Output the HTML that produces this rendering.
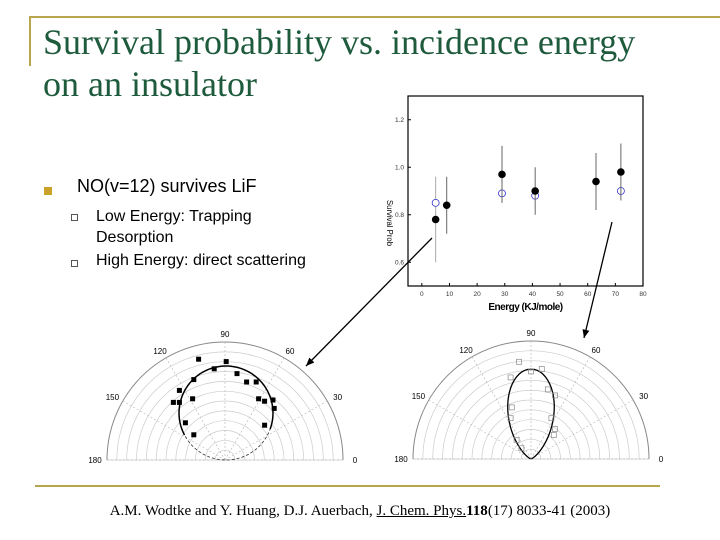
<!DOCTYPE html>
<html><head><meta charset="utf-8"><style>
body{margin:0;width:720px;height:540px;background:#fff;position:relative;overflow:hidden;font-family:"Liberation Sans",sans-serif}
.abs{position:absolute}
</style></head><body>
<div class="abs" style="left:29px;top:16px;width:691px;height:2px;background:#b8a64e"></div>
<div class="abs" style="left:29px;top:16px;width:2px;height:50px;background:#b8a64e"></div>
<div class="abs" style="left:43px;top:21px;font-family:'Liberation Serif',serif;font-size:36px;line-height:42px;color:#1e5a3c">Survival probability vs. incidence energy<br>on an insulator</div>
<div class="abs" style="left:44px;top:187px;width:8px;height:8px;background:#c9a227"></div>
<div class="abs" style="left:77px;top:176px;font-size:18px;color:#000">NO(v=12) survives LiF</div>
<div class="abs" style="left:71px;top:214px;width:5px;height:5px;border:1px solid #555"></div>
<div class="abs" style="left:96px;top:206px;font-size:16px;line-height:21px;color:#000">Low Energy: Trapping<br>Desorption</div>
<div class="abs" style="left:71px;top:260px;width:5px;height:5px;border:1px solid #555"></div>
<div class="abs" style="left:96px;top:252px;font-size:16px;color:#000">High Energy: direct scattering</div>
<div class="abs" style="left:35px;top:485px;width:625px;height:2px;background:#b8a64e"></div>
<div class="abs" style="left:0;width:720px;top:503px;text-align:center;font-family:'Liberation Serif',serif;font-size:15px;color:#000">A.M. Wodtke and Y. Huang, D.J. Auerbach, <u>J. Chem. Phys.</u><b>118</b>(17) 8033-41 (2003)</div>

<svg class="abs" style="left:0;top:0" width="720" height="540">
<g id="scatter"></g>
<g id="polarL"></g>
<g id="polarR"></g>
<g id="arrows"></g>
</svg>
<script>
const energyFilled=[5,9,29,41,63,72];
const probFilled=[0.78,0.84,0.97,0.90,0.94,0.98];
const errLoFilled=[0.78,0.72,0.85,0.80,0.82,0.86];
const errHiFilled=[0.78,0.96,1.09,1.00,1.06,1.10];
const energyOpen=[5,29,41,72];
const probOpen=[0.85,0.89,0.88,0.90];
const errLoOpen=[0.60,0.89,0.88,0.90];
const errHiOpen=[0.96,0.89,0.88,0.90];
const xTicks=[0,10,20,30,40,50,60,70,80];
const yTicks=[0.6,0.8,1.0,1.2];
const lowX=[-0.22,0.01,-0.09,0.10,-0.26,0.18,0.26,-0.38,-0.27,0.28,-0.43,-0.38,0.33,0.40,0.41,-0.33,0.33,-0.26];
const lowY=[0.84,0.82,0.76,0.72,0.67,0.65,0.65,0.58,0.51,0.51,0.48,0.48,0.49,0.50,0.43,0.31,0.29,0.21];
const highX=[-0.10,0.09,0,-0.17,0.14,0.20,-0.16,-0.17,0.17,0.20,0.19,-0.12,-0.08];
const highY=[0.81,0.75,0.73,0.68,0.58,0.53,0.43,0.34,0.34,0.25,0.20,0.16,0.09];
const polarAngles=[0,30,60,90,120,150,180];
const NS='http://www.w3.org/2000/svg';
function el(p,t,a){const e=document.createElementNS(NS,t);for(const k in a)e.setAttribute(k,a[k]);p.appendChild(e);return e;}
const sc=document.getElementById('scatter');
const X0=408,X1=643,Y0=286,Y1=96;
const xs=v=>X0+(v+5)/85*(X1-X0);
const ys=v=>Y0-(v-0.5)/0.8*(Y0-Y1);
let r=el(sc,'rect',{x:X0,y:Y1,width:X1-X0,height:Y0-Y1,fill:'none',stroke:'#000','stroke-width':1.2});

xTicks.forEach(t=>{el(sc,'line',{x1:xs(t),x2:xs(t),y1:Y0,y2:Y0-3,stroke:'#000'});
 const tx=el(sc,'text',{x:xs(t),y:Y0+10,'font-size':6.5,'text-anchor':'middle',fill:'#333'});tx.textContent=t;
 });
yTicks.forEach(t=>{el(sc,'line',{x1:X0,x2:X0+3,y1:ys(t),y2:ys(t),stroke:'#000'});
 const tx=el(sc,'text',{x:X0-4,y:ys(t)+2,'font-size':6.5,'text-anchor':'end',fill:'#333'});tx.textContent=t.toFixed(1);
 });
let xt=el(sc,'text',{x:(X0+X1)/2,y:Y0+24,'font-size':10,'font-weight':'bold','text-anchor':'middle','letter-spacing':-0.5});xt.textContent='Energy (KJ/mole)';

let yt=el(sc,'text',{x:0,y:0,'font-size':8,transform:'translate(387,200) rotate(90)','textLength':46,'lengthAdjust':'spacingAndGlyphs'});yt.textContent='Survival Prob';

energyOpen.forEach((e,i)=>{
 el(sc,'line',{x1:xs(e),x2:xs(e),y1:ys(errLoOpen[i]),y2:ys(errHiOpen[i]),stroke:'#aaa'});
 const c=el(sc,'circle',{cx:xs(e),cy:ys(probOpen[i]),r:3.5,fill:'#fff',stroke:'#33c','stroke-width':0.8});
 });
energyFilled.forEach((e,i)=>{
 el(sc,'line',{x1:xs(e),x2:xs(e),y1:ys(errLoFilled[i]),y2:ys(errHiFilled[i]),stroke:'#666'});
 const c=el(sc,'circle',{cx:xs(e),cy:ys(probFilled[i]),r:3.8,fill:'#000'});
 });
function polar(g,cx,cy,R){
 for(let k=1;k<=12;k++){const rr=R*k/12;
  el(g,'path',{d:`M${cx-rr},${cy} A${rr},${rr} 0 0 1 ${cx+rr},${cy}`,fill:'none',stroke:k==12?'#888':'#ccc','stroke-width':k==12?1:0.7});}
 el(g,'line',{x1:cx-R,x2:cx+R,y1:cy,y2:cy,stroke:'#ccc','stroke-width':0.7});
 polarAngles.forEach(a=>{const t=a*Math.PI/180;
  el(g,'line',{x1:cx,y1:cy,x2:cx+R*Math.cos(t),y2:cy-R*Math.sin(t),stroke:'#bbb','stroke-dasharray':'2,2','stroke-width':0.7});
  const lx=cx+(R+12)*Math.cos(t),ly=cy-(R+8)*Math.sin(t)+3;
  const tx=el(g,'text',{x:lx,y:ly,'font-size':8,'text-anchor':'middle'});tx.textContent=a;
  });
}
const gL=document.getElementById('polarL'),gR=document.getElementById('polarR');
const cL=[225,460],cR=[531,459],R=118,U=120;
polar(gL,cL[0],cL[1],R);polar(gR,cR[0],cR[1],R);
el(gL,'circle',{cx:cL[0]+1,cy:cL[1]-47,r:47,fill:'none',stroke:'#333','stroke-dasharray':'3,2','stroke-width':0.8});
let pts=[];for(let a=35;a<=150;a+=2){const t=a*Math.PI/180,rr=94*Math.sin(t);pts.push([cL[0]+1+rr*Math.cos(t),cL[1]-rr*Math.sin(t)]);}
let p=el(gL,'path',{d:'M'+pts.map(q=>q.join(',')).join('L'),fill:'none',stroke:'#000','stroke-width':1.5});

lowX.forEach((x,i)=>{const s=el(gL,'rect',{x:cL[0]+x*U-2.5,y:cL[1]-lowY[i]*U-2.5,width:5,height:5,fill:'#000'});
 });
pts=[];for(let a=20;a<=160;a+=2){const t=a*Math.PI/180,rr=90*Math.pow(Math.sin(t),5);pts.push([cR[0]+rr*Math.cos(t),cR[1]-rr*Math.sin(t)]);}
p=el(gR,'path',{d:'M'+pts.map(q=>q.join(',')).join('L'),fill:'none',stroke:'#000','stroke-width':1.3});

highX.forEach((x,i)=>{const s=el(gR,'rect',{x:cR[0]+x*U-2.5,y:cR[1]-highY[i]*U-2.5,width:5,height:5,fill:'none',stroke:'#888','stroke-width':0.7});
 });
const ga=document.getElementById('arrows');
function arrow(x1,y1,x2,y2){el(ga,'line',{x1,y1,x2,y2,stroke:'#000','stroke-width':1.3});
 const a=Math.atan2(y2-y1,x2-x1),L=9,w=0.4;
 el(ga,'polygon',{points:`${x2},${y2} ${x2-L*Math.cos(a-w)},${y2-L*Math.sin(a-w)} ${x2-L*Math.cos(a+w)},${y2-L*Math.sin(a+w)}`,fill:'#000'});}
arrow(432,238,306,366);arrow(612,222,584,338);
</script>
</body></html>
